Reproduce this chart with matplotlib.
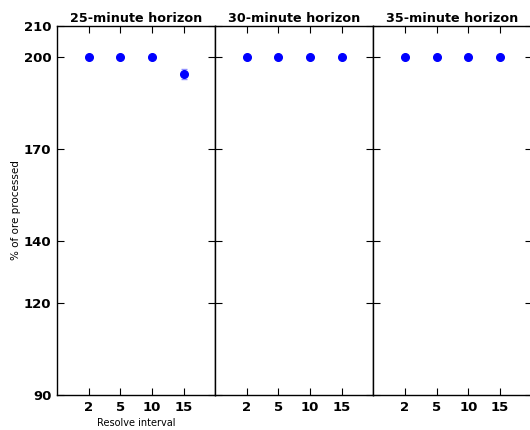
import matplotlib
matplotlib.use("Agg")
import matplotlib.pyplot as plt

horizons = ["25-minute horizon", "30-minute horizon", "35-minute horizon"]
intervals = ["2", "5", "10", "15"]
values = [
    [200, 200, 200, 194.3],
    [200, 200, 200, 200],
    [200, 200, 200, 200],
]
errors = [
    [0, 0, 0, 1.6],
    [0, 0, 0, 0],
    [0, 0, 0, 0],
]
yticks = [90, 120, 140, 170, 200, 210]

fig, axes = plt.subplots(1, 3, figsize=(5.3, 4.3), dpi=100, sharey=True)
fig.subplots_adjust(left=0.1075, right=1.003, bottom=0.0814, top=0.9395, wspace=0)

for i, ax in enumerate(axes):
    x = list(range(1, len(intervals) + 1))
    ax.errorbar(x, values[i], yerr=errors[i], fmt='o', color='#0000ff',
                markersize=5.5, ecolor='#9090ff', elinewidth=1.2, capsize=2.5,
                markeredgecolor='#0000ff', zorder=3)
    ax.set_xlim(0, 5)
    ax.set_ylim(90, 210)
    ax.set_xticks(x)
    ax.set_xticklabels(intervals, fontsize=9.5, fontweight='bold')
    ax.set_yticks(yticks)
    ax.tick_params(direction='in', length=5, top=True, right=True, width=0.8, pad=4)
    ax.set_title(horizons[i], fontsize=9.2, fontweight='bold', pad=3)
    for s in ax.spines.values():
        s.set_linewidth(1.0)
    if i == 0:
        ax.set_yticklabels([str(t) for t in yticks], fontsize=9.5, fontweight='bold')
        ax.set_ylabel("% of ore processed", fontsize=7.5, labelpad=2)
        ax.set_xlabel("Resolve interval", fontsize=7, labelpad=3)
    else:
        ax.tick_params(labelleft=False)

fig.savefig("out.png", dpi=100)
